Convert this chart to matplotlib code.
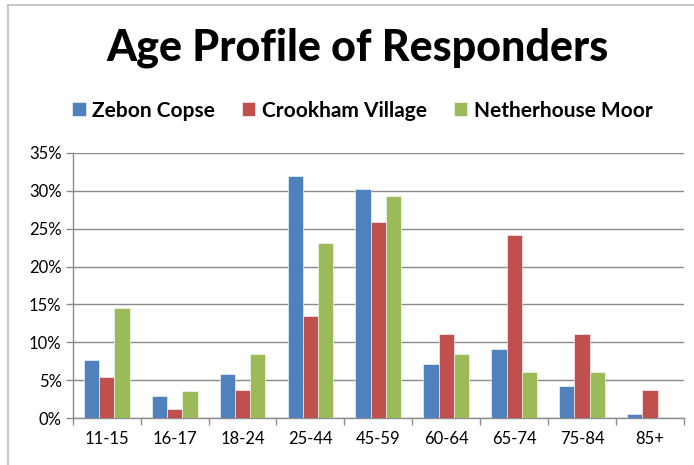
import matplotlib
matplotlib.use("Agg")
import matplotlib.pyplot as plt
import numpy as np
from matplotlib.ticker import FuncFormatter, FixedLocator
from matplotlib.lines import Line2D

categories = ["11-15", "16-17", "18-24", "25-44", "45-59", "60-64", "65-74", "75-84", "85+"]
zebon = [7.7, 2.9, 5.8, 31.9, 30.2, 7.2, 9.1, 4.3, 0.6]
crookham = [5.5, 1.2, 3.7, 13.5, 25.9, 11.1, 24.1, 11.1, 3.7]
netherhouse = [14.6, 3.6, 8.5, 23.1, 29.3, 8.5, 6.1, 6.1, 0.0]
series_names = ["Zebon Copse", "Crookham Village", "Netherhouse Moor"]
colors = ["#4F81BD", "#C0504D", "#9BBB59"]

plt.rcParams['font.family'] = ['Lato', 'DejaVu Sans']

fig = plt.figure(figsize=(6.94, 4.65), dpi=100)
ax = fig.add_axes([0.1048, 0.1004, 0.8808, 0.5712])

x = np.arange(len(categories))
w = 0.225
for i, (vals, name, c) in enumerate(zip([zebon, crookham, netherhouse], series_names, colors)):
    ax.bar(x + (i - 1) * w, vals, width=w, color=c, label=name,
           edgecolor="white", linewidth=0.4, zorder=3)

ax.set_xlim(-0.5, len(categories) - 0.5)
ax.set_ylim(0, 35)
ax.set_yticks(np.arange(0, 36, 5))
ax.yaxis.set_major_formatter(FuncFormatter(lambda v, p: f"{int(v)}%"))
ax.grid(axis="y", color="#8C8C8C", linewidth=1.0, zorder=0)
ax.set_xticks(x)
ax.set_xticklabels(categories)
ax.xaxis.set_minor_locator(FixedLocator(np.arange(-0.5, len(categories), 1.0)))
ax.tick_params(axis="x", which="major", length=0, pad=9, labelsize=12)
ax.tick_params(axis="x", which="minor", length=5, color="#8C8C8C", width=1.0, direction="out")
ax.tick_params(axis="y", length=5, color="#8C8C8C", width=1.0, pad=3, labelsize=12)
for s in ["top", "right"]:
    ax.spines[s].set_visible(False)
for s in ["left", "bottom"]:
    ax.spines[s].set_color("#8C8C8C")
    ax.spines[s].set_linewidth(1.0)

fig.text(0.515, 0.897, "Age Profile of Responders", ha="center", va="center",
         fontsize=31, fontweight="black")
fig.legend(loc="center", bbox_to_anchor=(0.522, 0.762), ncol=3, frameon=False,
           prop={"size": 15, "weight": "bold"}, handlelength=0.65, handleheight=0.65,
           handletextpad=0.3, columnspacing=1.3)

# chart border (cropped): left and top edges only
bx = 7.5 / 694
by = 1 - 5.5 / 465
fig.add_artist(Line2D([bx, bx], [0.0, by], transform=fig.transFigure,
                      color="#BFBFBF", linewidth=1.2))
fig.add_artist(Line2D([bx, 1.0], [by, by], transform=fig.transFigure,
                      color="#BFBFBF", linewidth=1.2))

fig.savefig("out.png", dpi=100)
